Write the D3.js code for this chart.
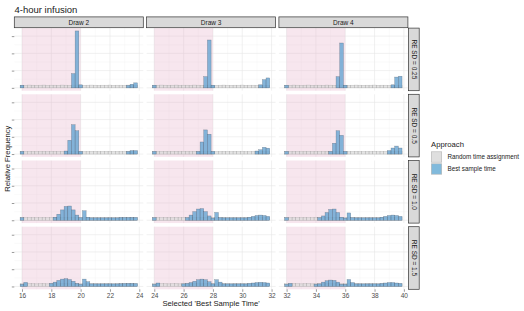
<!DOCTYPE html>
<html>
<head>
<meta charset="utf-8">
<script src="https://d3js.org/d3.v7.min.js"></script>
<style>
  body { margin: 0; background: #fff; }
  svg { font-family: "Liberation Sans", Arial, sans-serif; }
</style>
</head>
<body>
<svg width="524" height="311"></svg>
<script>
// facets
var draws = ["Draw 2", "Draw 3", "Draw 4"];
var drawStart = [16, 24, 32];
var infusionEnd = [20, 28, 36];
var xTicks = [[16, 18, 20, 22, 24], [24, 26, 28, 30, 32], [32, 34, 36, 38, 40]];
var sdLabels = ["RE SD = 0.25", "RE SD = 0.5", "RE SD = 1.0", "RE SD = 1.5"];
var yTicks = [0, 0.2, 0.4, 0.6];
var binWidth = 0.25;
var approaches = ["Random time assignment", "Best sample time"];

// relative frequency per 0.25 h bin (32 bins per draw window)
var randomFreq = [0.031, 0.030, 0.032, 0.031, 0.030, 0.031, 0.032, 0.030, 0.031, 0.031, 0.030, 0.032, 0.031, 0.030, 0.031, 0.032,
                  0.031, 0.030, 0.031, 0.032, 0.031, 0.030, 0.031, 0.031, 0.032, 0.030, 0.031, 0.031, 0.030, 0.032, 0.031, 0.030];

var bestSd025 = [
  [0.03, 0, 0, 0, 0, 0, 0, 0, 0, 0, 0, 0, 0, 0, 0.165, 0.66, 0.035, 0, 0, 0, 0, 0, 0, 0, 0, 0, 0, 0, 0, 0.028, 0.042, 0.058],
  [0.03, 0, 0, 0, 0, 0, 0, 0, 0, 0, 0, 0, 0, 0, 0.13, 0.555, 0.03, 0, 0, 0, 0, 0, 0, 0, 0, 0, 0, 0, 0, 0.035, 0.095, 0.115],
  [0.03, 0, 0, 0, 0, 0, 0, 0, 0, 0, 0, 0, 0, 0, 0.13, 0.52, 0.03, 0, 0, 0, 0, 0, 0, 0, 0, 0, 0, 0, 0, 0.035, 0.125, 0.135]
];
var bestSd05 = [
  [0.03, 0, 0, 0, 0, 0, 0, 0, 0, 0, 0, 0, 0.035, 0.16, 0.34, 0.27, 0.03, 0, 0, 0, 0, 0, 0, 0, 0, 0, 0, 0, 0, 0.03, 0.04, 0.04],
  [0.03, 0, 0, 0, 0, 0, 0, 0, 0, 0, 0, 0, 0.03, 0.14, 0.28, 0.23, 0.03, 0, 0, 0, 0, 0, 0, 0, 0, 0, 0, 0, 0.035, 0.05, 0.078, 0.068],
  [0.03, 0, 0, 0, 0, 0, 0, 0, 0, 0, 0, 0, 0.03, 0.125, 0.27, 0.217, 0.03, 0, 0, 0, 0, 0, 0, 0, 0, 0, 0, 0, 0.04, 0.07, 0.092, 0.07]
];
var bestSd10 = [
  [0.03, 0, 0, 0, 0, 0, 0, 0, 0, 0.035, 0.07, 0.12, 0.16, 0.165, 0.12, 0.06, 0.03, 0.11, 0.035, 0.028, 0.028, 0.028, 0.028, 0.028, 0.028, 0.028, 0.028, 0.032, 0.032, 0.032, 0.033, 0.032],
  [0.03, 0, 0, 0, 0, 0, 0, 0, 0, 0.03, 0.06, 0.10, 0.13, 0.135, 0.10, 0.05, 0.025, 0.09, 0.03, 0.028, 0.028, 0.028, 0.028, 0.028, 0.028, 0.028, 0.035, 0.045, 0.055, 0.06, 0.055, 0.045],
  [0.03, 0, 0, 0, 0, 0, 0, 0, 0, 0.03, 0.05, 0.09, 0.125, 0.13, 0.09, 0.035, 0.025, 0.085, 0.03, 0.028, 0.028, 0.028, 0.028, 0.028, 0.028, 0.028, 0.035, 0.045, 0.055, 0.06, 0.055, 0.045]
];
var bestSd15 = [
  [0.025, 0.047, 0, 0, 0, 0, 0, 0, 0.035, 0.05, 0.07, 0.085, 0.09, 0.08, 0.06, 0.035, 0.025, 0.085, 0.055, 0.03, 0.03, 0.03, 0.03, 0.03, 0.03, 0.03, 0.03, 0.032, 0.034, 0.035, 0.035, 0.034],
  [0.025, 0.04, 0, 0, 0, 0, 0, 0, 0.03, 0.035, 0.045, 0.06, 0.078, 0.085, 0.078, 0.055, 0.03, 0.078, 0.05, 0.03, 0.03, 0.03, 0.03, 0.03, 0.03, 0.03, 0.035, 0.04, 0.045, 0.048, 0.045, 0.04],
  [0.025, 0.035, 0, 0, 0, 0, 0, 0, 0.025, 0.03, 0.05, 0.066, 0.074, 0.07, 0.05, 0.025, 0.025, 0.08, 0.045, 0.03, 0.03, 0.03, 0.03, 0.03, 0.03, 0.03, 0.035, 0.04, 0.045, 0.045, 0.04, 0.035]
];
var bestRows = [bestSd025, bestSd05, bestSd10, bestSd15];

var svg = d3.select("svg");

var panelLeft = 14.3, panelW = 129, colStep = 132.3;
var panelTop = 28.1, panelH = 62.6, rowStep = 66.2;

var grey = "#d9d9d9", blue = "#6baed6";

var yMax = d3.max(bestRows, function(r) { return d3.max(r, function(a) { return d3.max(a); }); });
var y = d3.scaleLinear().domain([-0.05 * yMax, 1.05 * yMax]).range([panelH, 0]);
var yMinor = d3.pairs(yTicks).map(function(p) { return (p[0] + p[1]) / 2; });

bestRows.forEach(function(row, r) {
  draws.forEach(function(draw, c) {
    var lo = drawStart[c] - binWidth / 2,
      hi = lo + randomFreq.length * binWidth,
      pad = 0.05 * (hi - lo);
    var x = d3.scaleLinear().domain([lo - pad, hi + pad]).range([0, panelW]);
    var bw = x(binWidth) - x(0);
    var xMinor = d3.pairs(xTicks[c]).map(function(p) { return (p[0] + p[1]) / 2; });

    var g = svg.append("g")
      .attr("transform", "translate(" + (panelLeft + c * colStep) + "," + (panelTop + r * rowStep) + ")");

    // grid
    g.selectAll(".vminor").data(xMinor).enter().append("line")
      .attr("x1", function(d) { return x(d); }).attr("x2", function(d) { return x(d); })
      .attr("y1", 0).attr("y2", panelH)
      .attr("stroke", "#f2f2f2").attr("stroke-width", 0.4);
    g.selectAll(".hminor").data(yMinor).enter().append("line")
      .attr("y1", function(d) { return y(d); }).attr("y2", function(d) { return y(d); })
      .attr("x1", 0).attr("x2", panelW)
      .attr("stroke", "#f2f2f2").attr("stroke-width", 0.4);
    g.selectAll(".vmajor").data(xTicks[c]).enter().append("line")
      .attr("x1", function(d) { return x(d); }).attr("x2", function(d) { return x(d); })
      .attr("y1", 0).attr("y2", panelH)
      .attr("stroke", "#e6e6e6").attr("stroke-width", 0.6);
    g.selectAll(".hmajor").data(yTicks).enter().append("line")
      .attr("y1", function(d) { return y(d); }).attr("y2", function(d) { return y(d); })
      .attr("x1", 0).attr("x2", panelW)
      .attr("stroke", "#e6e6e6").attr("stroke-width", 0.6);

    // infusion window
    g.append("rect")
      .attr("x", x(drawStart[c])).attr("y", 0)
      .attr("width", x(infusionEnd[c]) - x(drawStart[c])).attr("height", panelH)
      .attr("fill", "#e7b3ca").attr("fill-opacity", 0.33);

    // random time assignment
    g.selectAll(".rnd").data(randomFreq).enter().append("rect")
      .attr("x", function(d, i) { return x(drawStart[c] + i * binWidth) - bw / 2; })
      .attr("y", function(d) { return y(d); })
      .attr("width", bw)
      .attr("height", function(d) { return y(0) - y(d); })
      .attr("fill", grey).attr("fill-opacity", 0.7)
      .attr("stroke", "#9a9a9a").attr("stroke-opacity", 0.7).attr("stroke-width", 0.4);

    // best sample time
    var best = row[c].map(function(v, i) { return { v: v, i: i }; }).filter(function(d) { return d.v > 0; });
    g.selectAll(".best").data(best).enter().append("rect")
      .attr("x", function(d, i) { return x(drawStart[c] + d.i * binWidth) - bw / 2; })
      .attr("y", function(d) { return y(d.v); })
      .attr("width", bw)
      .attr("height", function(d) { return y(0) - y(d.v); })
      .attr("fill", "#6fa8d3").attr("fill-opacity", 0.85)
      .attr("stroke", "#3f4f60").attr("stroke-opacity", 0.55).attr("stroke-width", 0.45);

    // y ticks (no labels)
    if (c == 0) {
      var ya = g.append("g").call(d3.axisLeft(y).tickValues(yTicks).tickFormat("").tickSize(2.5));
      ya.select(".domain").remove();
      ya.selectAll("line").attr("stroke", "#333").attr("stroke-width", 0.5);
    }
    // x axis on bottom row
    if (r == bestRows.length - 1) {
      var xa = g.append("g").attr("transform", "translate(0," + panelH + ")")
        .call(d3.axisBottom(x).tickValues(xTicks[c]).tickSize(2.5).tickPadding(1.5));
      xa.select(".domain").remove();
      xa.selectAll("line").attr("stroke", "#333").attr("stroke-width", 0.5);
      xa.selectAll("text").attr("font-size", "6.5px").attr("fill", "#4d4d4d")
        .attr("font-family", "Liberation Sans, Arial, sans-serif");
    }
    // top strips
    if (r == 0) {
      g.append("rect").attr("x", 0).attr("y", -11.2).attr("width", panelW).attr("height", 10.8)
        .attr("fill", "#d9d9d9").attr("stroke", "#333").attr("stroke-width", 0.7);
      g.append("text").attr("x", panelW / 2).attr("y", -5.8).attr("dy", "0.35em")
        .attr("text-anchor", "middle").attr("font-size", "6.5px").attr("fill", "#1a1a1a")
        .text(draw);
    }
    // right strips
    if (c == draws.length - 1) {
      g.append("rect").attr("x", panelW + 0.5).attr("y", 0).attr("width", 10.8).attr("height", panelH)
        .attr("fill", "#d9d9d9").attr("stroke", "#333").attr("stroke-width", 0.7);
      g.append("text")
        .attr("transform", "translate(" + (panelW + 5.9) + "," + (panelH / 2) + ") rotate(90)")
        .attr("dy", "0.35em").attr("text-anchor", "middle")
        .attr("font-size", "6.5px").attr("fill", "#1a1a1a")
        .text(sdLabels[r]);
    }
  });
});

// titles
svg.append("text").attr("x", 14.5).attr("y", 12.5).attr("font-size", "9.5px").attr("fill", "#1a1a1a")
  .text("4-hour infusion");
svg.append("text").attr("x", panelLeft + (2 * colStep + panelW) / 2).attr("y", 306)
  .attr("text-anchor", "middle").attr("font-size", "7.7px").attr("fill", "#1a1a1a")
  .text("Selected 'Best Sample Time'");
svg.append("text")
  .attr("transform", "translate(9.5," + (panelTop + (3 * rowStep + panelH) / 2) + ") rotate(-90)")
  .attr("text-anchor", "middle").attr("font-size", "7.7px").attr("fill", "#1a1a1a")
  .text("Relative Frequency");

// legend
var lg = svg.append("g").attr("transform", "translate(431,140)");
lg.append("text").attr("x", 0).attr("y", 7).attr("font-size", "7.7px").attr("fill", "#1a1a1a").text("Approach");
var keyFill = [grey, blue];
approaches.forEach(function(a, i) {
  lg.append("rect").attr("x", 0.3).attr("y", 11.8 + i * 12).attr("width", 10.4).attr("height", 10.4)
    .attr("fill", keyFill[i]).attr("fill-opacity", 0.85)
    .attr("stroke", "#b3b3b3").attr("stroke-width", 0.6);
  lg.append("text").attr("x", 16.5).attr("y", 17 + i * 12).attr("dy", "0.35em")
    .attr("font-size", "6.3px").attr("fill", "#1a1a1a").text(a);
});
</script>
</body>
</html>
